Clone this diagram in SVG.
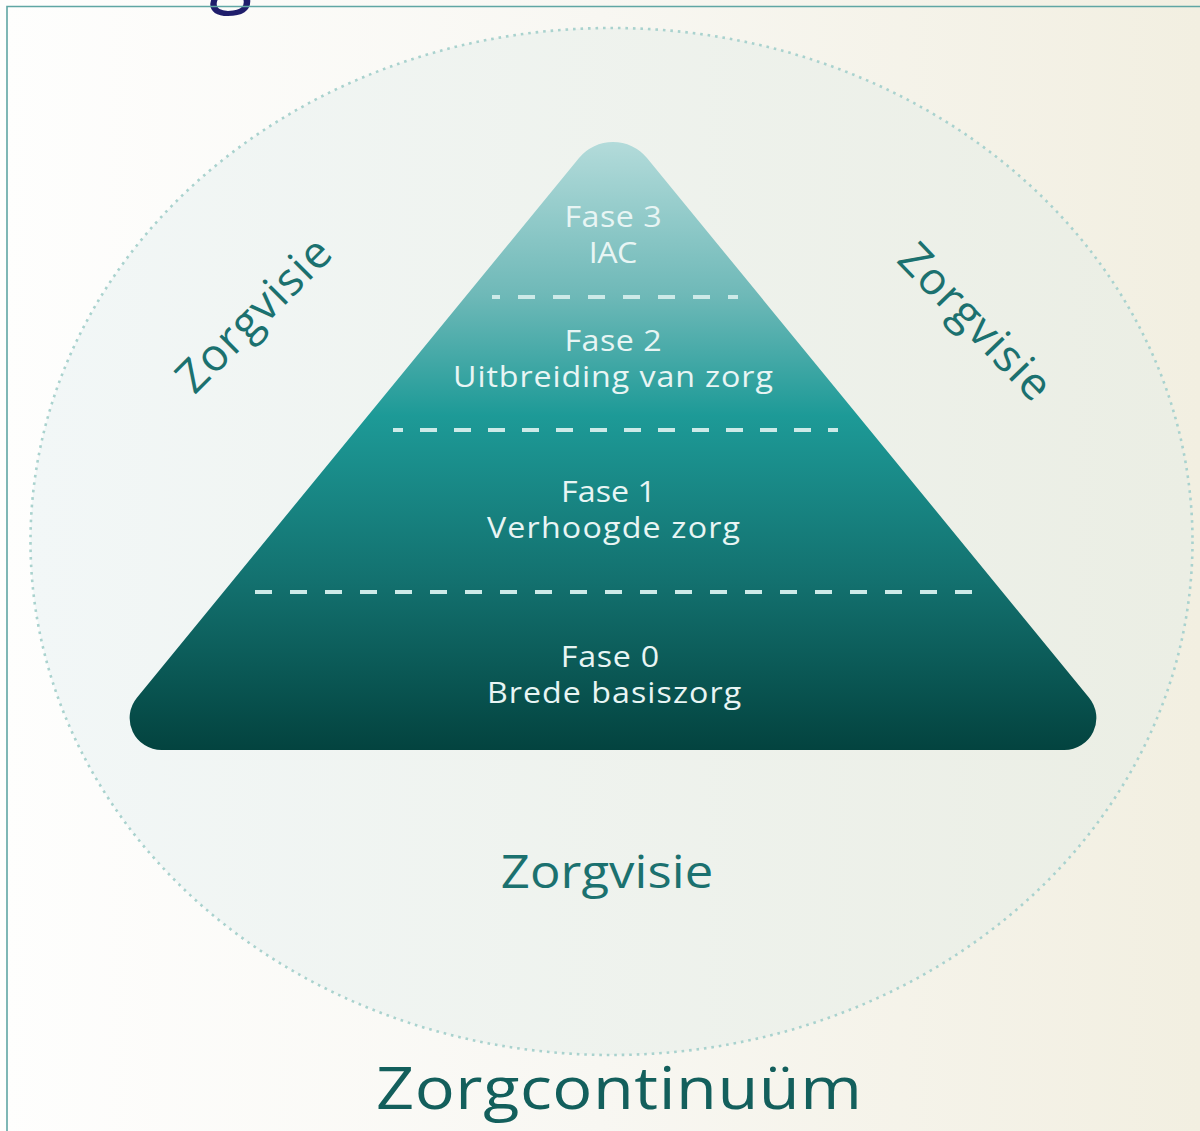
<svg xmlns="http://www.w3.org/2000/svg" width="1200" height="1131" viewBox="0 0 1200 1131">
<defs>
<linearGradient id="bg" x1="0" y1="0" x2="1" y2="0">
<stop offset="0" stop-color="#fefefd"/>
<stop offset="0.5" stop-color="#f8f7f2"/>
<stop offset="1" stop-color="#f2efe1"/>
</linearGradient>
<linearGradient id="circ" x1="0" y1="0" x2="1" y2="0">
<stop offset="0" stop-color="#f2f7f7"/>
<stop offset="1" stop-color="#ebeee4"/>
</linearGradient>
<linearGradient id="pyr" gradientUnits="userSpaceOnUse" x1="0" y1="142" x2="0" y2="750">
<stop offset="0" stop-color="#b3dbda"/>
<stop offset="0.25" stop-color="#6fb9b8"/>
<stop offset="0.45" stop-color="#1d9a97"/>
<stop offset="0.72" stop-color="#13716f"/>
<stop offset="1" stop-color="#03433f"/>
</linearGradient>
<style>
.ptxt{font-family:"Open Sans","Liberation Sans",sans-serif;font-size:28.5px;fill:#e8f5f4;text-anchor:middle}
.zv{font-family:"Open Sans","Liberation Sans",sans-serif;font-size:45px;fill:#1b716f;text-anchor:middle}
.dash{stroke:#cdeae8;stroke-width:4;fill:none}
</style>
</defs>
<rect x="0" y="0" width="1200" height="1131" fill="url(#bg)"/>
<text x="209" y="-3" font-family="'Open Sans','Liberation Sans',sans-serif" font-size="80" fill="#1f1d6b">g</text>
<path d="M7 1131 V6.5 H1200" fill="none" stroke="#5fa6a4" stroke-width="1.6"/>
<g id="circle">
<ellipse cx="611.5" cy="541.5" rx="581" ry="513.5" fill="url(#circ)" stroke="#a9d2ce" stroke-width="2.6" stroke-dasharray="2.6 4.9"/>
</g>
<g id="pyramid">
<path d="M579 158 A44 44 0 0 1 647 158 L1089.1 697.7 A32 32 0 0 1 1064.3 750 L161.7 750 A32 32 0 0 1 136.9 697.7 Z" fill="url(#pyr)"/>
</g>
<g id="connectors">
<line class="dash" x1="492" y1="297" x2="738" y2="297" stroke-dasharray="17 18" stroke-dashoffset="9"/>
<line class="dash" x1="393" y1="430" x2="838" y2="430" stroke-dasharray="17 17" stroke-dashoffset="7"/>
<line class="dash" x1="255" y1="592" x2="972" y2="592" stroke-dasharray="17 18"/>
</g>
<g id="fase3">
<text class="ptxt" transform="matrix(1.13 0 0 1 613 0)" x="0" y="227" textLength="86">Fase 3</text>
<text class="ptxt" transform="matrix(1.13 0 0 1 613 0)" x="0" y="263" textLength="43">IAC</text>
</g>
<g id="fase2">
<text class="ptxt" transform="matrix(1.13 0 0 1 613 0)" x="0" y="351" textLength="86">Fase 2</text>
<text class="ptxt" transform="matrix(1.13 0 0 1 613 0)" x="0" y="387" textLength="283">Uitbreiding van zorg</text>
</g>
<g id="fase1">
<text class="ptxt" transform="matrix(1.13 0 0 1 608.5 0)" x="0" y="502" textLength="84">Fase 1</text>
<text class="ptxt" transform="matrix(1.13 0 0 1 613.5 0)" x="0" y="538" textLength="224">Verhoogde zorg</text>
</g>
<g id="fase0">
<text class="ptxt" transform="matrix(1.13 0 0 1 610 0)" x="0" y="667" textLength="87">Fase 0</text>
<text class="ptxt" transform="matrix(1.13 0 0 1 614 0)" x="0" y="703" textLength="225">Brede basiszorg</text>
</g>
<g id="zorgvisie-left">
<text class="zv" transform="translate(254 315) rotate(-45)" x="0" y="15" textLength="198">Zorgvisie</text>
</g>
<g id="zorgvisie-right">
<text class="zv" transform="translate(975 322) rotate(46)" x="0" y="15" textLength="198">Zorgvisie</text>
</g>
<g id="zorgvisie-bottom">
<text class="zv" transform="matrix(1.13 0 0 1 607 0)" x="0" y="888" textLength="188">Zorgvisie</text>
</g>
<g id="title">
<text transform="matrix(1.13 0 0 1 619 0)" x="0" y="1109" textLength="430" font-family="'Open Sans','Liberation Sans',sans-serif" font-size="59" fill="#135f5c" text-anchor="middle">Zorgcontinuüm</text>
</g>
</svg>
